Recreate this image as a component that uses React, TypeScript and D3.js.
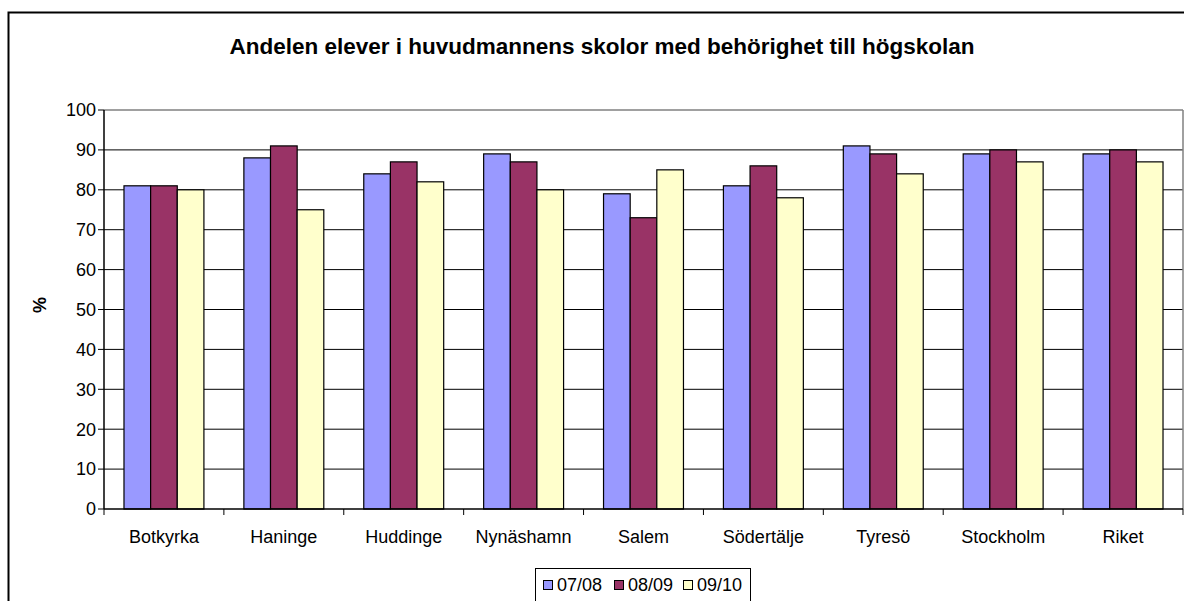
import React from "react";
import * as d3 from "d3";

const categories = ["Botkyrka", "Haninge", "Huddinge", "Nynäshamn", "Salem", "Södertälje", "Tyresö", "Stockholm", "Riket"];
const seriesNames = ["07/08", "08/09", "09/10"];
const s0708 = [81, 88, 84, 89, 79, 81, 91, 89, 89];
const s0809 = [81, 91, 87, 87, 73, 86, 89, 90, 90];
const s0910 = [80, 75, 82, 80, 85, 78, 84, 87, 87];
const yTicks = [0, 10, 20, 30, 40, 50, 60, 70, 80, 90, 100];
const colors = ["#9999FF", "#993366", "#FFFFCC"];
const title = "Andelen elever i huvudmannens skolor med behörighet till högskolan";

export default function App() {
  const W = 1184, H = 601;
  const left = 104, right = 1183, top = 110, bottom = 509;
  const series = [s0708, s0809, s0910];
  const x = d3.scaleBand().domain(categories).range([left, right]).paddingInner(0.3333).paddingOuter(0.1667);
  const x1 = d3.scaleBand().domain(seriesNames).range([0, x.bandwidth()]);
  const y = d3.scaleLinear().domain([0, 100]).range([bottom, top]);
  const step = x.step();
  const font = "Arial, 'Liberation Sans', sans-serif";
  const legendX = 535, legendY = 568;
  const legendSq = [543, 614, 683];
  return (
    <svg width={W} height={H} style={{ position: "absolute", left: 0, top: 0, display: "block" }} fontFamily={font}>
      <rect x={0} y={0} width={W} height={H} fill="#fff" />
      <rect x={8.5} y={12.5} width={W + 20} height={H + 20} fill="#fff" stroke="#000" strokeWidth={2} />
      <text x={602} y={54} textAnchor="middle" fontSize={22.5} fontWeight="bold">{title}</text>
      {yTicks.filter(t => t > 0 && t < 100).map(t => (
        <line key={t} x1={left} x2={right} y1={y(t)} y2={y(t)} stroke="#000" strokeWidth={1} />
      ))}
      <line x1={left} x2={right} y1={y(100)} y2={y(100)} stroke="#808080" strokeWidth={1.5} />
      <line x1={right} x2={right} y1={top} y2={bottom} stroke="#808080" strokeWidth={1.5} />
      {categories.map((c, ci) => series.map((s, si) => (
        <rect key={c + si} x={(x(c) as number) + (x1(seriesNames[si]) as number)} y={y(s[ci])}
          width={x1.bandwidth()} height={bottom - y(s[ci])} fill={colors[si]} stroke="#000" strokeWidth={1.2} />
      )))}
      <line x1={left} x2={left} y1={top} y2={bottom} stroke="#000" strokeWidth={1.5} />
      <line x1={left} x2={right} y1={bottom} y2={bottom} stroke="#000" strokeWidth={1.5} />
      {yTicks.map(t => (
        <g key={t}>
          <line x1={left - 6} x2={left} y1={y(t)} y2={y(t)} stroke="#000" strokeWidth={1} />
          <text x={left - 8} y={y(t)} dy="0.35em" textAnchor="end" fontSize={18}>{t}</text>
        </g>
      ))}
      {d3.range(categories.length + 1).map(i => (
        <line key={i} x1={left + i * step} x2={left + i * step} y1={bottom} y2={bottom + 6} stroke="#000" strokeWidth={1} />
      ))}
      {categories.map(c => (
        <text key={c} x={(x(c) as number) + x.bandwidth() / 2} y={543} textAnchor="middle" fontSize={18}>{c}</text>
      ))}
      <text transform="translate(46,305) rotate(-90)" textAnchor="middle" fontSize={18} fontWeight="bold">%</text>
      <rect x={legendX + 0.5} y={legendY + 0.5} width={215} height={40} fill="#fff" stroke="#000" strokeWidth={1} />
      {seriesNames.map((n, i) => (
        <g key={n}>
          <rect x={legendSq[i] + 0.5} y={580.5} width={9} height={9} fill={colors[i]} stroke="#000" strokeWidth={1} />
          <text x={legendSq[i] + 14} y={591} fontSize={18}>{n}</text>
        </g>
      ))}
    </svg>
  );
}
